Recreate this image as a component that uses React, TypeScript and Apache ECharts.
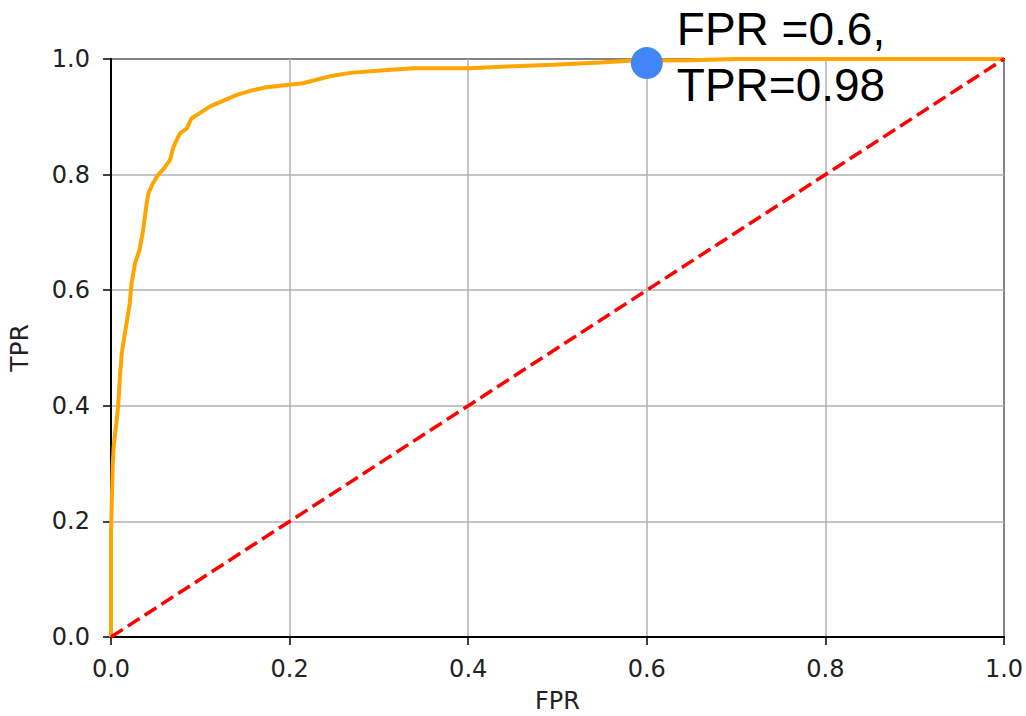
import React, { useEffect, useRef } from "react";
import * as echarts from "echarts";

const rocFPR = [0, 0, 0.002, 0.003, 0.006, 0.008, 0.010, 0.012, 0.015, 0.018, 0.021, 0.023, 0.027, 0.032, 0.036, 0.040, 0.042, 0.047, 0.053, 0.059, 0.066, 0.070, 0.077, 0.085, 0.090, 0.096, 0.111, 0.126, 0.141, 0.156, 0.174, 0.197, 0.215, 0.230, 0.245, 0.268, 0.309, 0.339, 0.402, 0.443, 0.495, 0.548, 0.581, 0.65, 0.70, 1.0];
const rocTPR = [0, 0.18, 0.30, 0.33, 0.37, 0.40, 0.45, 0.49, 0.52, 0.548, 0.577, 0.612, 0.647, 0.67, 0.704, 0.751, 0.768, 0.785, 0.80, 0.81, 0.825, 0.848, 0.871, 0.880, 0.897, 0.903, 0.918, 0.928, 0.938, 0.945, 0.951, 0.955, 0.958, 0.964, 0.970, 0.976, 0.981, 0.984, 0.984, 0.987, 0.990, 0.994, 0.997, 0.998, 1.0, 1.0];
const diagFPR = [0, 1];
const diagTPR = [0, 1];
const markerPoint = [0.6, 0.993];
const markerLabel = "FPR =0.6,\nTPR=0.98";
const xAxisName = "FPR";
const yAxisName = "TPR";

export default function App() {
  const ref = useRef<HTMLDivElement>(null);
  useEffect(() => {
    if (!ref.current) return;
    const chart = echarts.init(ref.current, undefined, { renderer: "svg" });
    const tickFont = { fontFamily: "DejaVu Sans", fontSize: 24, color: "#222" };
    chart.setOption({
      animation: false,
      backgroundColor: "#fff",
      grid: { left: 111, right: 22, top: 59, bottom: 79, outerBoundsMode: "none", containLabel: false, show: true, borderColor: "#000", borderWidth: 2, backgroundColor: "transparent" },
      xAxis: {
        type: "value", min: 0, max: 1, interval: 0.2,
        name: xAxisName, nameLocation: "middle", nameGap: 52,
        nameTextStyle: { fontFamily: "DejaVu Sans", fontSize: 24, lineHeight: 24, color: "#222", verticalAlign: "top" },
        axisLine: { show: true, onZero: false, lineStyle: { color: "#000", width: 2 } },
        axisTick: { show: true, length: 8, lineStyle: { color: "#000", width: 1.5 } },
        axisLabel: { ...tickFont, margin: 20, formatter: (v: number) => v.toFixed(1) },
        splitLine: { show: true, lineStyle: { color: "#b0b0b0", width: 1.5 } },
      },
      yAxis: {
        type: "value", min: 0, max: 1, interval: 0.2,
        name: yAxisName, nameLocation: "middle", nameGap: 79,
        nameTextStyle: { fontFamily: "DejaVu Sans", fontSize: 25, color: "#222" },
        axisLine: { show: true, onZero: false, lineStyle: { color: "#000", width: 2 } },
        axisTick: { show: true, length: 8, lineStyle: { color: "#000", width: 1.5 } },
        axisLabel: { ...tickFont, margin: 21, formatter: (v: number) => v.toFixed(1) },
        splitLine: { show: true, lineStyle: { color: "#b0b0b0", width: 1.5 } },
      },
      series: [
        {
          type: "line", data: rocFPR.map((x, i) => [x, rocTPR[i]]), showSymbol: false, symbol: "none",
          lineStyle: { color: "#FFA500", width: 4 }, z: 3, clip: false,
        },
        {
          type: "line", data: diagFPR.map((x, i) => [x, diagTPR[i]]), showSymbol: false, symbol: "none",
          lineStyle: { color: "#FF0000", width: 3.5, type: [14, 6] }, z: 4,
        },
        {
          type: "scatter", data: [markerPoint], symbolSize: 32, clip: false, z: 10,
          itemStyle: { color: "#4285F4", opacity: 1 },
          label: {
            show: true, formatter: markerLabel, position: [46, -46], align: "left", verticalAlign: "top",
            fontFamily: "Liberation Sans", fontSize: 46, lineHeight: 56, color: "#000",
          },
        },
      ],
    });
    return () => chart.dispose();
  }, []);
  return <div ref={ref} style={{ position: "absolute", left: 0, top: 0, width: 1026, height: 716 }} />;
}
